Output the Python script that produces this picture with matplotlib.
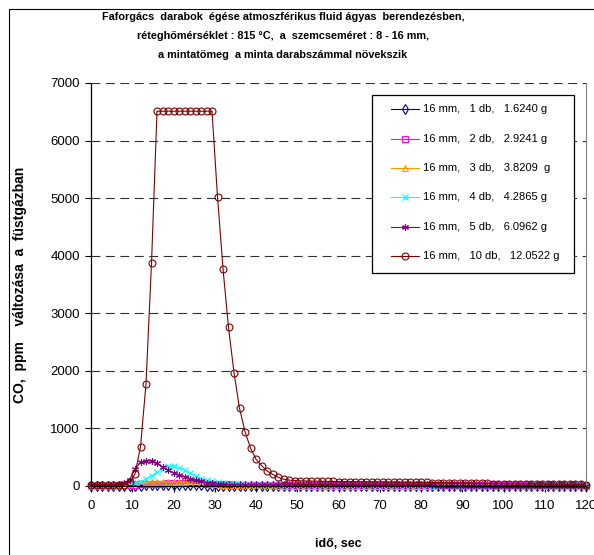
import numpy as np
import matplotlib
matplotlib.use("Agg")
import matplotlib.pyplot as plt
from matplotlib.patches import Rectangle

plt.rcParams['font.family'] = ['Liberation Sans', 'DejaVu Sans']

# measurement every 4/3 s, 0 .. 120 s
t = np.arange(91) * 4.0 / 3.0

labels = [
    "16 mm,   1 db,   1.6240 g",
    "16 mm,   2 db,   2.9241 g",
    "16 mm,   3 db,   3.8209  g",
    "16 mm,   4 db,   4.2865 g",
    "16 mm,   5 db,   6.0962 g",
    "16 mm,   10 db,   12.0522 g",
]

co_1db = [2, 2, 2, 2, 3, 3, 4, 5, 6, 8, 10, 12, 14, 15, 15, 14, 13, 12, 11, 10,
          9, 8, 7, 6, 6, 5, 5, 5, 4, 4, 4, 4, 4, 3, 3, 3, 3, 3, 3, 3,
          3, 3, 2, 2, 2, 2, 2, 2, 2, 2, 2, 2, 2, 2, 2, 2, 2, 2, 2, 2,
          2, 2, 2, 2, 2, 2, 2, 2, 2, 2, 2, 2, 2, 2, 2, 2, 2, 2, 2, 2,
          2, 2, 2, 2, 2, 2, 2, 2, 2, 2, 2]
co_2db = [5, 5, 5, 6, 7, 9, 12, 16, 22, 28, 33, 37, 40, 43, 45, 46, 47, 47, 46, 45,
          44, 42, 40, 37, 33, 29, 26, 23, 21, 20, 19, 18, 18, 17, 17, 16, 16, 16, 15, 15,
          15, 15, 14, 14, 14, 14, 13, 13, 13, 13, 13, 12, 12, 12, 12, 12, 12, 11, 11, 11,
          11, 11, 11, 10, 10, 10, 10, 10, 10, 10, 10, 9, 9, 9, 9, 9, 9, 9, 9, 9,
          8, 8, 8, 8, 8, 8, 8, 8, 8, 8, 8]
co_3db = [5, 5, 5, 6, 8, 12, 20, 32, 45, 55, 62, 66, 68, 70, 70, 68, 66, 63, 60, 56,
          52, 46, 38, 28, 20, 15, 13, 12, 11, 10, 10, 9, 9, 9, 8, 8, 8, 8, 7, 7,
          7, 7, 7, 6, 6, 6, 6, 6, 6, 6, 5, 5, 5, 5, 5, 5, 5, 5, 5, 5,
          4, 4, 4, 4, 4, 4, 4, 4, 4, 4, 4, 4, 4, 3, 3, 3, 3, 3, 3, 3,
          3, 3, 3, 3, 3, 3, 3, 3, 3, 3, 3]
co_4db = [5, 5, 5, 6, 8, 15, 30, 55, 60, 75, 120, 175, 240, 300, 340, 345, 320, 275, 220, 170,
          130, 100, 80, 62, 50,
          42, 36, 32, 28, 25, 23, 21, 20, 19, 18, 17, 16, 16, 15, 15, 14, 14, 13, 13, 13,
          12, 12, 12, 11, 11, 11, 11, 10, 10, 10, 10, 10, 9, 9, 9, 9, 9, 8, 8, 8,
          8, 8, 8, 8, 7, 7, 7, 7, 7, 7, 7, 7, 6, 6, 6, 6, 6, 6, 6, 6,
          6, 5, 5, 5, 5, 5]
co_5db = [12, 12, 13, 14, 18, 30, 50, 110, 290, 415, 440, 432, 395, 330, 275, 232, 195, 160, 128, 100,
          80, 60, 45, 35, 28,
          24, 22, 21, 20, 19, 18, 18, 17, 17, 16, 16, 15, 15, 15, 14, 14, 14, 13, 13, 13,
          12, 12, 12, 12, 11, 11, 11, 11, 10, 10, 10, 10, 10, 9, 9, 9, 9, 9, 8, 8,
          8, 8, 8, 8, 8, 7, 7, 7, 7, 7, 7, 7, 7, 6, 6, 6, 6, 6, 6, 6,
          5, 5, 5, 5, 5, 5]
co_10db = [18, 18, 17, 18, 19, 20, 22, 64, 210, 680, 1775, 3865,
           6510, 6510, 6510, 6510, 6510, 6510, 6510, 6510, 6510, 6510, 6510,
           5025, 3775, 2755, 1970, 1350, 945, 660, 465, 355, 262, 203, 152, 118,
           102, 95, 90, 87, 85,
           83, 82, 80, 79, 78, 77, 76, 75, 74, 73,
           72, 71, 70, 69, 68, 67, 66, 65, 64, 63,
           62, 60, 58, 57, 55, 53, 52, 50, 48, 47,
           45, 44, 43, 42, 41, 40, 39, 38, 37, 36,
           35, 34, 33, 32, 31, 30, 29, 28, 27, 26]

series = [co_1db, co_2db, co_3db, co_4db, co_5db, co_10db]
colors = ['#000080', '#FF00FF', '#FF9900', '#00FFFF', '#800080', '#800000']
markers = ['d', 's', '^', 'x', (6, 2, 0), 'o']

W, H = 594, 555
fig = plt.figure(figsize=(W / 100, H / 100), dpi=100)
ax = fig.add_axes([91 / W, 69 / H, 495 / W, 403 / H])

style = dict(lw=0.8, markersize=5, markerfacecolor='none', markeredgewidth=0.8)
for vals, col, mk in zip(series, colors, markers):
    ax.plot(t, vals, color=col, marker=mk, markeredgecolor=col,
            clip_on=False, **style)

ax.set_xlim(0, 120)
ax.set_ylim(0, 7000)
ax.set_xticks(np.arange(0, 121, 10))
ax.set_yticks(np.arange(0, 7001, 1000))
ax.tick_params(direction='out', length=4, width=0.8, labelsize=9.5,
               colors='black', pad=4)
ax.tick_params(axis='x', pad=6)
for y in range(1000, 7001, 1000):
    ax.axhline(y, color='#303030', lw=0.8, dashes=(8, 5), zorder=0)

ax.spines['top'].set_visible(False)
ax.spines['right'].set_color('#808080')
ax.spines['left'].set_linewidth(0.9)
ax.spines['bottom'].set_linewidth(0.9)

ax.set_xlabel("idő, sec", fontsize=9, fontweight='bold', labelpad=19)
ax.set_ylabel("CO,  ppm    változása  a  füstgázban", fontsize=10,
              fontweight='bold', labelpad=17)

fig.text(283 / W, 1 - 12 / H,
         "Faforgács  darabok  égése atmoszférikus fluid ágyas  berendezésben,\n"
         "réteghőmérséklet : 815 °C,  a  szemcseméret : 8 - 16 mm,\n"
         "a mintatömeg  a minta darabszámmal növekszik",
         ha='center', va='top', fontsize=7.8, fontweight='bold', linespacing=2.15)

# legend box drawn by hand (figure pixels -> axes fraction)
def ax_xy(px, py):
    return (px - 91) / 495, (486 - py) / 403

bx0, by0 = ax_xy(372, 273)
bx1, by1 = ax_xy(574, 95)
ax.add_patch(Rectangle((bx0, by0), bx1 - bx0, by1 - by0, transform=ax.transAxes,
                       facecolor='white', edgecolor='black', lw=0.9,
                       zorder=5, clip_on=False))
row_y = [109, 139, 168, 197, 226.5, 256]
for lab, col, mk, py in zip(labels, colors, markers, row_y):
    x0, y = ax_xy(391, py)
    x1, _ = ax_xy(419, py)
    xm, _ = ax_xy(405, py)
    ax.plot([x0, x1], [y, y], color=col, lw=0.8, transform=ax.transAxes,
            clip_on=False, zorder=6)
    ax.plot([xm], [y], color=col, marker=mk, markeredgecolor=col, lw=0,
            markersize=5, markerfacecolor='none', markeredgewidth=0.8,
            transform=ax.transAxes, clip_on=False, zorder=6)
    xt, _ = ax_xy(423, py)
    ax.text(xt, y, lab, fontsize=8, va='center', ha='left',
            transform=ax.transAxes, zorder=6)

# outer chart frame
fig.patches.append(Rectangle((9 / W, -0.1), 1.1, 1 - 9 / H + 0.1,
                             transform=fig.transFigure, fill=False,
                             edgecolor='black', lw=0.8))

fig.savefig("out.png", dpi=100)
